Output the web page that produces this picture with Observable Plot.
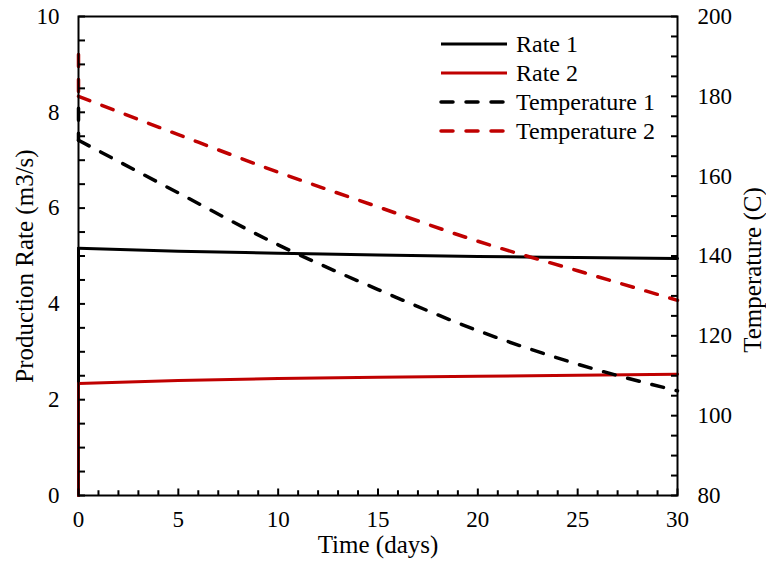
<!DOCTYPE html>
<html><head>
<meta charset="utf-8">
<script src="https://cdn.jsdelivr.net/npm/d3@7"></script>
<script src="https://cdn.jsdelivr.net/npm/@observablehq/plot@0.6"></script>
<style>
body{margin:0;background:#fff}
#chart{position:relative;width:766px;height:574px}
</style>
</head><body><div id="chart"></div>
<script>
// ---- data ----
const days  = [0, 5, 10, 15, 20, 25, 30];
const rate1 = [5.16, 5.10, 5.06, 5.02, 4.99, 4.97, 4.95];
const rate2 = [2.34, 2.40, 2.44, 2.47, 2.49, 2.51, 2.53];
const temp1 = [169.0, 155.8, 142.8, 131.6, 121.3, 112.9, 106.2];
const temp2 = [180.0, 170.4, 161.0, 152.3, 143.7, 136.3, 128.9];
// value just before the step at day 0
const startValues = {rate1: 0, rate2: 0, temp1: 177, temp2: 190.5};
const seriesNames = ["Rate 1", "Rate 2", "Temperature 1", "Temperature 2"];
const xTicks = [0, 5, 10, 15, 20, 25, 30];
const yTicks = [0, 2, 4, 6, 8, 10];
const tTicks = [80, 100, 120, 140, 160, 180, 200];
const minorX = [0,1,2,3,4,5,6,7,8,9,10,11,12,13,14,15,16,17,18,19,20,21,22,23,24,25,26,27,28,29,30];
const minorY = [0,0.5,1,1.5,2,2.5,3,3.5,4,4.5,5,5.5,6,6.5,7,7.5,8,8.5,9,9.5,10];
const minorT = [80,85,90,95,100,105,110,115,120,125,130,135,140,145,150,155,160,165,170,175,180,185,190,195,200];

const RED = "#C00000";
const tToY = t => (t - 80) / 12;   // temperature axis 80..200 mapped on rate axis 0..10

const mk = (vals) => days.map((d, i) => ({x: d, v: vals[i]}));
const r1 = mk(rate1), r2 = mk(rate2), t1 = mk(temp1), t2 = mk(temp2);
const spike = (a, b) => [{x: 0, v: a}, {x: 0, v: b}];

const dash = "12,13";
const font = "Liberation Serif, 'Times New Roman', serif";

// inward tick lengths expressed in data units (about 6-7px)
const xTickLen = 30 * 6.5 / 599;
const yTickLen = 10 * 7 / 479;

const chart = Plot.plot({
  width: 766, height: 574,
  marginLeft: 78, marginRight: 89, marginTop: 16, marginBottom: 79,
  style: {fontFamily: font, fontSize: "23px", background: "white", color: "black", overflow: "visible"},
  x: {domain: [0, 30]},
  y: {domain: [0, 10]},
  marks: [
    // solid rate lines
    Plot.line(spike(startValues.rate1, rate1[0]), {x: "x", y: "v", stroke: "black", strokeWidth: 3}),
    Plot.line(r1, {x: "x", y: "v", stroke: "black", strokeWidth: 3, curve: "monotone-x"}),
    Plot.line(spike(startValues.rate2, rate2[0]), {x: "x", y: "v", stroke: RED, strokeWidth: 3}),
    Plot.line(r2, {x: "x", y: "v", stroke: RED, strokeWidth: 3, curve: "monotone-x"}),
    // dashed temperature lines
    Plot.line(spike(startValues.temp1, temp1[0]), {x: "x", y: d => tToY(d.v), stroke: "black", strokeWidth: 3.5, strokeDasharray: dash, strokeLinecap: "round"}),
    Plot.line(t1, {x: "x", y: d => tToY(d.v), stroke: "black", strokeWidth: 3.5, strokeDasharray: dash, strokeLinecap: "round", curve: "monotone-x"}),
    Plot.line(spike(startValues.temp2, temp2[0]), {x: "x", y: d => tToY(d.v), stroke: RED, strokeWidth: 3.5, strokeDasharray: dash, strokeLinecap: "round"}),
    Plot.line(t2, {x: "x", y: d => tToY(d.v), stroke: RED, strokeWidth: 3.5, strokeDasharray: dash, strokeLinecap: "round", curve: "monotone-x"}),
    // frame
    Plot.frame({stroke: "black", strokeWidth: 2}),
    // inward ticks
    Plot.link(minorY, {x1: d => 0, x2: d => xTickLen, y1: d => d, y2: d => d, stroke: "black", strokeWidth: 2}),
    Plot.link(minorT, {x1: d => 30 - xTickLen, x2: d => 30, y1: d => tToY(d), y2: d => tToY(d), stroke: "black", strokeWidth: 2}),
    Plot.link(minorX, {x1: d => d, x2: d => d, y1: d => 0, y2: d => (d % 5 === 0 ? yTickLen : yTickLen * 0.75), stroke: "black", strokeWidth: 2}),
    // tick labels
    Plot.axisY({ticks: yTicks, tickSize: 0, tickPadding: 19, label: null, fontSize: 23}),
    Plot.axisY({anchor: "right", ticks: tTicks.map(tToY), tickFormat: v => String(Math.round(v * 12 + 80)), tickSize: 0, tickPadding: 20, label: null, fontSize: 23}),
    Plot.axisX({ticks: xTicks, tickSize: 0, tickPadding: 15, label: null, fontSize: 23}),
    // axis titles
    Plot.text(["Production Rate (m3/s)"], {text: d => d, frameAnchor: "left", dx: -54, dy: 10, rotate: -90, textAnchor: "middle", fontSize: 25, fill: "black"}),
    Plot.text(["Temperature (C)"], {text: d => d, frameAnchor: "right", dx: 75, dy: 14, rotate: -90, textAnchor: "middle", fontSize: 25, fill: "black"}),
    Plot.text(["Time (days)"], {text: d => d, frameAnchor: "bottom", dy: 57, textAnchor: "middle", fontSize: 25, fill: "black"})
  ]
});

// legend inside the plot (top right)
const svg = d3.select(chart);
const legendStyles = [
  {stroke: "black", dash: null},
  {stroke: RED, dash: null},
  {stroke: "black", dash: dash},
  {stroke: RED, dash: dash}
];
const lg = svg.append("g").attr("class", "legend").attr("text-anchor", "start");
seriesNames.forEach((name, i) => {
  const y = 44 + i * 29;
  const st = legendStyles[i];
  const ln = lg.append("line").attr("x1", 441).attr("x2", 507).attr("y1", y).attr("y2", y)
    .attr("stroke", st.stroke).attr("stroke-width", st.dash ? 3.5 : 3);
  if (st.dash) ln.attr("stroke-dasharray", st.dash).attr("stroke-linecap", "round");
  lg.append("text").attr("x", 516).attr("y", y).attr("dy", "0.35em")
    .attr("text-anchor", "start")
    .attr("font-family", font).attr("font-size", 24).attr("fill", "black").text(name);
});

document.getElementById("chart").appendChild(chart);
</script>
</body></html>
